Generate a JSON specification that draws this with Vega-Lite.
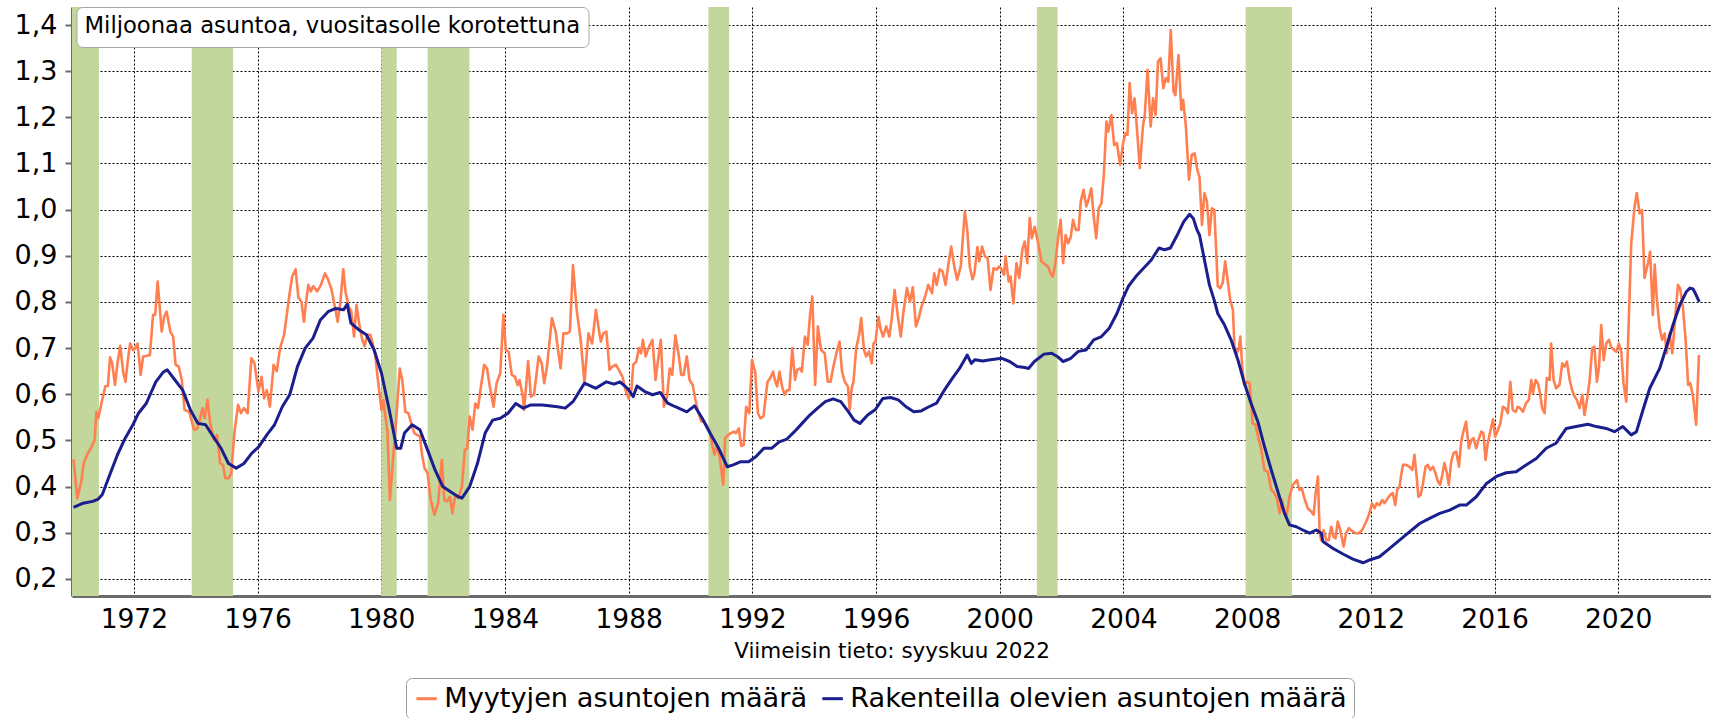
{
  "$schema": "https://vega.github.io/schema/vega-lite/v6.json",
  "width": 1639,
  "height": 589,
  "autosize": {"type": "none"},
  "padding": {"left": 72, "top": 7, "right": 0, "bottom": 122},
  "background": "white",
  "config": {
    "view": {"stroke": null},
    "font": "DejaVu Sans",
    "axis": {"zindex": 1, "labelFont": "DejaVu Sans", "titleFont": "DejaVu Sans", "labelColor": "#000", "titleColor": "#000", "gridColor": "#000", "gridDash": [2, 2], "gridWidth": 1, "gridOpacity": 1, "domainColor": "#6b6b6b", "domainWidth": 3}
  },
  "datasets": {
    "rec": [
      {"s": 1970.0, "e": 1970.87},
      {"s": 1973.87, "e": 1975.21},
      {"s": 1980.0, "e": 1980.5},
      {"s": 1981.5, "e": 1982.85},
      {"s": 1990.58, "e": 1991.25},
      {"s": 2001.2, "e": 2001.87},
      {"s": 2007.95, "e": 2009.45}
    ],
    "sold": [
      {"t":1970.05,"v":0.459},{"t":1970.17,"v":0.375},{"t":1970.30,"v":0.411},{"t":1970.38,"v":0.451},{"t":1970.51,"v":0.472},{"t":1970.61,"v":0.483},{"t":1970.73,"v":0.501},{"t":1970.79,"v":0.562},{"t":1970.85,"v":0.548},{"t":1970.95,"v":0.580},
      {"t":1971.08,"v":0.618},{"t":1971.16,"v":0.618},{"t":1971.23,"v":0.680},{"t":1971.30,"v":0.667},{"t":1971.39,"v":0.620},{"t":1971.47,"v":0.667},{"t":1971.56,"v":0.705},{"t":1971.66,"v":0.646},{"t":1971.73,"v":0.627},{"t":1971.81,"v":0.676},{"t":1971.88,"v":0.710},{"t":1971.97,"v":0.696},
      {"t":1972.05,"v":0.700},{"t":1972.12,"v":0.710},{"t":1972.22,"v":0.642},{"t":1972.30,"v":0.682},{"t":1972.40,"v":0.683},{"t":1972.52,"v":0.685},{"t":1972.62,"v":0.772},{"t":1972.69,"v":0.772},{"t":1972.77,"v":0.844},{"t":1972.90,"v":0.736},{"t":1972.98,"v":0.768},
      {"t":1973.06,"v":0.779},{"t":1973.18,"v":0.736},{"t":1973.27,"v":0.725},{"t":1973.35,"v":0.664},{"t":1973.45,"v":0.660},{"t":1973.55,"v":0.631},{"t":1973.64,"v":0.566},{"t":1973.79,"v":0.562},{"t":1973.95,"v":0.523},
      {"t":1974.05,"v":0.526},{"t":1974.13,"v":0.544},{"t":1974.22,"v":0.570},{"t":1974.29,"v":0.548},{"t":1974.38,"v":0.588},{"t":1974.47,"v":0.537},{"t":1974.59,"v":0.501},{"t":1974.69,"v":0.512},{"t":1974.79,"v":0.451},{"t":1974.88,"v":0.447},{"t":1974.96,"v":0.418},
      {"t":1975.06,"v":0.418},{"t":1975.15,"v":0.429},{"t":1975.25,"v":0.516},{"t":1975.37,"v":0.577},{"t":1975.46,"v":0.559},{"t":1975.56,"v":0.570},{"t":1975.68,"v":0.559},{"t":1975.80,"v":0.678},{"t":1975.90,"v":0.667},
      {"t":1976.03,"v":0.606},{"t":1976.13,"v":0.638},{"t":1976.21,"v":0.591},{"t":1976.30,"v":0.609},{"t":1976.40,"v":0.573},{"t":1976.52,"v":0.664},{"t":1976.62,"v":0.650},{"t":1976.73,"v":0.700},{"t":1976.86,"v":0.729},{"t":1976.98,"v":0.790},
      {"t":1977.04,"v":0.820},{"t":1977.12,"v":0.855},{"t":1977.23,"v":0.871},{"t":1977.32,"v":0.810},{"t":1977.42,"v":0.800},{"t":1977.50,"v":0.757},{"t":1977.57,"v":0.800},{"t":1977.64,"v":0.837},{"t":1977.72,"v":0.823},{"t":1977.80,"v":0.834},{"t":1977.93,"v":0.823},
      {"t":1978.05,"v":0.837},{"t":1978.18,"v":0.862},{"t":1978.27,"v":0.850},{"t":1978.38,"v":0.830},{"t":1978.50,"v":0.790},{"t":1978.59,"v":0.757},{"t":1978.68,"v":0.800},{"t":1978.77,"v":0.871},{"t":1978.85,"v":0.820},{"t":1978.95,"v":0.790},
      {"t":1979.03,"v":0.780},{"t":1979.12,"v":0.725},{"t":1979.20,"v":0.794},{"t":1979.30,"v":0.747},{"t":1979.38,"v":0.720},{"t":1979.46,"v":0.704},{"t":1979.55,"v":0.729},{"t":1979.65,"v":0.729},{"t":1979.80,"v":0.689},{"t":1979.88,"v":0.638},{"t":1979.95,"v":0.599},
      {"t":1980.01,"v":0.566},{"t":1980.07,"v":0.588},{"t":1980.12,"v":0.559},{"t":1980.20,"v":0.520},{"t":1980.28,"v":0.371},{"t":1980.37,"v":0.450},{"t":1980.45,"v":0.516},{"t":1980.52,"v":0.581},{"t":1980.60,"v":0.656},{"t":1980.68,"v":0.631},{"t":1980.78,"v":0.562},{"t":1980.88,"v":0.559},{"t":1980.98,"v":0.534},
      {"t":1981.07,"v":0.516},{"t":1981.15,"v":0.512},{"t":1981.25,"v":0.509},{"t":1981.32,"v":0.469},{"t":1981.40,"v":0.440},{"t":1981.50,"v":0.429},{"t":1981.60,"v":0.371},{"t":1981.72,"v":0.339},{"t":1981.84,"v":0.364},{"t":1981.96,"v":0.458},
      {"t":1982.04,"v":0.371},{"t":1982.13,"v":0.368},{"t":1982.22,"v":0.378},{"t":1982.30,"v":0.342},{"t":1982.39,"v":0.382},{"t":1982.49,"v":0.375},{"t":1982.61,"v":0.400},{"t":1982.70,"v":0.479},{"t":1982.78,"v":0.483},{"t":1982.86,"v":0.552},{"t":1982.95,"v":0.523},
      {"t":1983.04,"v":0.580},{"t":1983.13,"v":0.570},{"t":1983.20,"v":0.606},{"t":1983.33,"v":0.664},{"t":1983.42,"v":0.656},{"t":1983.51,"v":0.617},{"t":1983.63,"v":0.573},{"t":1983.73,"v":0.624},{"t":1983.85,"v":0.646},{"t":1983.95,"v":0.772},
      {"t":1984.03,"v":0.696},{"t":1984.12,"v":0.692},{"t":1984.22,"v":0.642},{"t":1984.32,"v":0.638},{"t":1984.41,"v":0.620},{"t":1984.47,"v":0.631},{"t":1984.57,"v":0.599},{"t":1984.62,"v":0.566},{"t":1984.75,"v":0.672},{"t":1984.84,"v":0.595},{"t":1984.94,"v":0.599},
      {"t":1985.09,"v":0.682},{"t":1985.19,"v":0.667},{"t":1985.27,"v":0.624},{"t":1985.36,"v":0.660},{"t":1985.52,"v":0.765},{"t":1985.64,"v":0.736},{"t":1985.73,"v":0.689},{"t":1985.80,"v":0.656},{"t":1985.89,"v":0.732},
      {"t":1986.01,"v":0.732},{"t":1986.10,"v":0.736},{"t":1986.20,"v":0.880},{"t":1986.32,"v":0.783},{"t":1986.45,"v":0.718},{"t":1986.57,"v":0.624},{"t":1986.70,"v":0.732},{"t":1986.82,"v":0.710},{"t":1986.94,"v":0.783},
      {"t":1987.03,"v":0.743},{"t":1987.10,"v":0.714},{"t":1987.18,"v":0.732},{"t":1987.28,"v":0.736},{"t":1987.38,"v":0.653},{"t":1987.47,"v":0.660},{"t":1987.59,"v":0.664},{"t":1987.71,"v":0.649},{"t":1987.80,"v":0.638},{"t":1987.90,"v":0.609},
      {"t":1988.00,"v":0.591},{"t":1988.09,"v":0.609},{"t":1988.15,"v":0.664},{"t":1988.25,"v":0.671},{"t":1988.33,"v":0.700},{"t":1988.40,"v":0.689},{"t":1988.46,"v":0.718},{"t":1988.55,"v":0.682},{"t":1988.64,"v":0.700},{"t":1988.77,"v":0.718},{"t":1988.87,"v":0.631},{"t":1988.95,"v":0.674},
      {"t":1989.04,"v":0.718},{"t":1989.14,"v":0.573},{"t":1989.24,"v":0.595},{"t":1989.33,"v":0.656},{"t":1989.41,"v":0.642},{"t":1989.51,"v":0.728},{"t":1989.61,"v":0.689},{"t":1989.70,"v":0.642},{"t":1989.78,"v":0.642},{"t":1989.88,"v":0.682},{"t":1989.97,"v":0.631},
      {"t":1990.07,"v":0.620},{"t":1990.16,"v":0.588},{"t":1990.26,"v":0.559},{"t":1990.35,"v":0.541},{"t":1990.44,"v":0.541},{"t":1990.54,"v":0.530},{"t":1990.63,"v":0.519},{"t":1990.71,"v":0.487},{"t":1990.78,"v":0.469},{"t":1990.85,"v":0.490},{"t":1990.94,"v":0.465},
      {"t":1991.06,"v":0.404},{"t":1991.12,"v":0.505},{"t":1991.22,"v":0.512},{"t":1991.31,"v":0.516},{"t":1991.40,"v":0.519},{"t":1991.47,"v":0.516},{"t":1991.56,"v":0.526},{"t":1991.64,"v":0.488},{"t":1991.72,"v":0.490},{"t":1991.80,"v":0.573},{"t":1991.90,"v":0.559},{"t":1991.99,"v":0.674},
      {"t":1992.09,"v":0.649},{"t":1992.18,"v":0.559},{"t":1992.26,"v":0.548},{"t":1992.36,"v":0.552},{"t":1992.49,"v":0.627},{"t":1992.58,"v":0.635},{"t":1992.67,"v":0.649},{"t":1992.73,"v":0.631},{"t":1992.80,"v":0.617},{"t":1992.88,"v":0.649},{"t":1992.96,"v":0.617},
      {"t":1993.04,"v":0.599},{"t":1993.13,"v":0.609},{"t":1993.20,"v":0.609},{"t":1993.29,"v":0.700},{"t":1993.38,"v":0.631},{"t":1993.45,"v":0.653},{"t":1993.54,"v":0.656},{"t":1993.60,"v":0.649},{"t":1993.70,"v":0.725},{"t":1993.79,"v":0.707},{"t":1993.87,"v":0.775},{"t":1993.94,"v":0.812},
      {"t":1994.03,"v":0.620},{"t":1994.12,"v":0.747},{"t":1994.22,"v":0.696},{"t":1994.34,"v":0.689},{"t":1994.44,"v":0.627},{"t":1994.53,"v":0.627},{"t":1994.62,"v":0.660},{"t":1994.72,"v":0.689},{"t":1994.82,"v":0.714},{"t":1994.90,"v":0.649},{"t":1994.99,"v":0.627},
      {"t":1995.09,"v":0.617},{"t":1995.15,"v":0.566},{"t":1995.21,"v":0.613},{"t":1995.27,"v":0.627},{"t":1995.36,"v":0.700},{"t":1995.46,"v":0.732},{"t":1995.52,"v":0.765},{"t":1995.61,"v":0.696},{"t":1995.68,"v":0.682},{"t":1995.77,"v":0.693},{"t":1995.86,"v":0.667},{"t":1995.92,"v":0.710},{"t":1995.98,"v":0.714},
      {"t":1996.08,"v":0.768},{"t":1996.14,"v":0.743},{"t":1996.23,"v":0.725},{"t":1996.33,"v":0.747},{"t":1996.43,"v":0.725},{"t":1996.51,"v":0.765},{"t":1996.60,"v":0.826},{"t":1996.70,"v":0.772},{"t":1996.80,"v":0.725},{"t":1996.88,"v":0.775},
      {"t":1997.00,"v":0.830},{"t":1997.10,"v":0.800},{"t":1997.19,"v":0.832},{"t":1997.29,"v":0.747},{"t":1997.38,"v":0.765},{"t":1997.47,"v":0.790},{"t":1997.57,"v":0.808},{"t":1997.69,"v":0.837},{"t":1997.81,"v":0.819},{"t":1997.88,"v":0.862},{"t":1997.96,"v":0.837},
      {"t":1998.06,"v":0.871},{"t":1998.15,"v":0.866},{"t":1998.25,"v":0.837},{"t":1998.33,"v":0.877},{"t":1998.43,"v":0.920},{"t":1998.53,"v":0.877},{"t":1998.62,"v":0.848},{"t":1998.74,"v":0.877},{"t":1998.87,"v":0.996},{"t":1998.95,"v":0.956},
      {"t":1999.03,"v":0.877},{"t":1999.12,"v":0.849},{"t":1999.18,"v":0.862},{"t":1999.28,"v":0.919},{"t":1999.34,"v":0.888},{"t":1999.43,"v":0.920},{"t":1999.52,"v":0.899},{"t":1999.61,"v":0.895},{"t":1999.70,"v":0.826},{"t":1999.80,"v":0.873},{"t":1999.90,"v":0.870},{"t":1999.98,"v":0.877},
      {"t":2000.04,"v":0.873},{"t":2000.14,"v":0.859},{"t":2000.19,"v":0.899},{"t":2000.29,"v":0.844},{"t":2000.35,"v":0.855},{"t":2000.44,"v":0.797},{"t":2000.54,"v":0.884},{"t":2000.63,"v":0.852},{"t":2000.73,"v":0.913},{"t":2000.81,"v":0.931},{"t":2000.89,"v":0.884},{"t":2000.97,"v":0.982},
      {"t":2001.04,"v":0.938},{"t":2001.13,"v":0.963},{"t":2001.22,"v":0.935},{"t":2001.35,"v":0.888},{"t":2001.47,"v":0.881},{"t":2001.56,"v":0.877},{"t":2001.66,"v":0.859},{"t":2001.72,"v":0.855},{"t":2001.80,"v":0.884},{"t":2001.88,"v":0.935},{"t":2001.97,"v":0.978},
      {"t":2002.05,"v":0.884},{"t":2002.13,"v":0.945},{"t":2002.21,"v":0.927},{"t":2002.30,"v":0.942},{"t":2002.37,"v":0.978},{"t":2002.46,"v":0.956},{"t":2002.55,"v":0.956},{"t":2002.62,"v":1.018},{"t":2002.71,"v":1.043},{"t":2002.80,"v":1.007},{"t":2002.87,"v":1.021},{"t":2002.96,"v":1.046},
      {"t":2003.04,"v":0.985},{"t":2003.12,"v":0.938},{"t":2003.20,"v":1.003},{"t":2003.29,"v":1.014},{"t":2003.37,"v":1.079},{"t":2003.45,"v":1.191},{"t":2003.51,"v":1.169},{"t":2003.61,"v":1.205},{"t":2003.70,"v":1.140},{"t":2003.79,"v":1.144},{"t":2003.89,"v":1.097},{"t":2003.99,"v":1.144},
      {"t":2004.07,"v":1.166},{"t":2004.13,"v":1.162},{"t":2004.20,"v":1.274},{"t":2004.28,"v":1.209},{"t":2004.36,"v":1.241},{"t":2004.44,"v":1.173},{"t":2004.53,"v":1.090},{"t":2004.63,"v":1.180},{"t":2004.69,"v":1.205},{"t":2004.78,"v":1.303},{"t":2004.88,"v":1.180},{"t":2004.96,"v":1.241},
      {"t":2005.04,"v":1.205},{"t":2005.12,"v":1.321},{"t":2005.20,"v":1.328},{"t":2005.29,"v":1.263},{"t":2005.37,"v":1.285},{"t":2005.45,"v":1.277},{"t":2005.53,"v":1.389},{"t":2005.62,"v":1.256},{"t":2005.68,"v":1.248},{"t":2005.78,"v":1.335},{"t":2005.87,"v":1.216},{"t":2005.93,"v":1.238},
      {"t":2006.02,"v":1.180},{"t":2006.12,"v":1.065},{"t":2006.21,"v":1.119},{"t":2006.30,"v":1.122},{"t":2006.39,"v":1.086},{"t":2006.46,"v":1.070},{"t":2006.54,"v":0.967},{"t":2006.62,"v":1.036},{"t":2006.70,"v":1.018},{"t":2006.78,"v":0.945},{"t":2006.86,"v":1.003},{"t":2006.94,"v":0.999},
      {"t":2007.05,"v":0.834},{"t":2007.13,"v":0.830},{"t":2007.21,"v":0.841},{"t":2007.29,"v":0.888},{"t":2007.37,"v":0.848},{"t":2007.45,"v":0.805},{"t":2007.54,"v":0.783},{"t":2007.59,"v":0.703},{"t":2007.67,"v":0.689},{"t":2007.73,"v":0.700},{"t":2007.78,"v":0.725},{"t":2007.84,"v":0.660},{"t":2007.91,"v":0.620},{"t":2007.99,"v":0.627},
      {"t":2008.08,"v":0.624},{"t":2008.18,"v":0.537},{"t":2008.27,"v":0.534},{"t":2008.38,"v":0.501},{"t":2008.45,"v":0.483},{"t":2008.56,"v":0.436},{"t":2008.67,"v":0.432},{"t":2008.78,"v":0.393},{"t":2008.85,"v":0.389},{"t":2008.96,"v":0.375},
      {"t":2009.05,"v":0.342},{"t":2009.13,"v":0.371},{"t":2009.21,"v":0.342},{"t":2009.28,"v":0.339},{"t":2009.37,"v":0.378},{"t":2009.48,"v":0.404},{"t":2009.61,"v":0.414},{"t":2009.69,"v":0.393},{"t":2009.77,"v":0.396},{"t":2009.85,"v":0.375},{"t":2009.96,"v":0.353},
      {"t":2010.07,"v":0.346},{"t":2010.15,"v":0.339},{"t":2010.21,"v":0.382},{"t":2010.29,"v":0.422},{"t":2010.34,"v":0.306},{"t":2010.39,"v":0.284},{"t":2010.47,"v":0.306},{"t":2010.56,"v":0.284},{"t":2010.64,"v":0.284},{"t":2010.72,"v":0.313},{"t":2010.79,"v":0.292},{"t":2010.86,"v":0.288},{"t":2010.93,"v":0.324},
      {"t":2011.01,"v":0.306},{"t":2011.12,"v":0.270},{"t":2011.20,"v":0.299},{"t":2011.29,"v":0.310},{"t":2011.40,"v":0.303},{"t":2011.50,"v":0.299},{"t":2011.61,"v":0.299},{"t":2011.72,"v":0.306},{"t":2011.83,"v":0.321},{"t":2011.94,"v":0.339},
      {"t":2012.04,"v":0.364},{"t":2012.12,"v":0.353},{"t":2012.19,"v":0.364},{"t":2012.28,"v":0.360},{"t":2012.37,"v":0.371},{"t":2012.44,"v":0.364},{"t":2012.55,"v":0.375},{"t":2012.63,"v":0.382},{"t":2012.71,"v":0.386},{"t":2012.79,"v":0.360},{"t":2012.85,"v":0.393},{"t":2012.93,"v":0.400},{"t":2012.98,"v":0.425},
      {"t":2013.04,"v":0.447},{"t":2013.14,"v":0.447},{"t":2013.25,"v":0.443},{"t":2013.34,"v":0.436},{"t":2013.41,"v":0.469},{"t":2013.47,"v":0.429},{"t":2013.54,"v":0.378},{"t":2013.61,"v":0.382},{"t":2013.68,"v":0.404},{"t":2013.77,"v":0.443},{"t":2013.84,"v":0.447},{"t":2013.92,"v":0.436},
      {"t":2014.01,"v":0.443},{"t":2014.09,"v":0.429},{"t":2014.17,"v":0.411},{"t":2014.24,"v":0.404},{"t":2014.31,"v":0.425},{"t":2014.38,"v":0.451},{"t":2014.46,"v":0.429},{"t":2014.52,"v":0.404},{"t":2014.60,"v":0.454},{"t":2014.67,"v":0.472},{"t":2014.76,"v":0.476},{"t":2014.85,"v":0.443},{"t":2014.92,"v":0.497},{"t":2014.98,"v":0.516},
      {"t":2015.08,"v":0.541},{"t":2015.17,"v":0.483},{"t":2015.25,"v":0.501},{"t":2015.32,"v":0.505},{"t":2015.41,"v":0.483},{"t":2015.48,"v":0.501},{"t":2015.57,"v":0.519},{"t":2015.64,"v":0.516},{"t":2015.71,"v":0.458},{"t":2015.78,"v":0.494},{"t":2015.86,"v":0.519},{"t":2015.95,"v":0.546},
      {"t":2016.02,"v":0.508},{"t":2016.11,"v":0.523},{"t":2016.19,"v":0.537},{"t":2016.27,"v":0.573},{"t":2016.35,"v":0.570},{"t":2016.43,"v":0.559},{"t":2016.51,"v":0.627},{"t":2016.59,"v":0.566},{"t":2016.68,"v":0.562},{"t":2016.75,"v":0.573},{"t":2016.83,"v":0.570},{"t":2016.92,"v":0.562},
      {"t":2017.02,"v":0.581},{"t":2017.11,"v":0.588},{"t":2017.19,"v":0.631},{"t":2017.24,"v":0.602},{"t":2017.33,"v":0.631},{"t":2017.40,"v":0.624},{"t":2017.46,"v":0.606},{"t":2017.54,"v":0.570},{"t":2017.62,"v":0.559},{"t":2017.69,"v":0.635},{"t":2017.78,"v":0.631},{"t":2017.83,"v":0.710},{"t":2017.91,"v":0.631},{"t":2017.99,"v":0.613},
      {"t":2018.10,"v":0.620},{"t":2018.19,"v":0.667},{"t":2018.26,"v":0.660},{"t":2018.34,"v":0.671},{"t":2018.43,"v":0.631},{"t":2018.51,"v":0.609},{"t":2018.59,"v":0.595},{"t":2018.66,"v":0.588},{"t":2018.75,"v":0.570},{"t":2018.84,"v":0.599},{"t":2018.91,"v":0.555},{"t":2018.99,"v":0.588},
      {"t":2019.07,"v":0.627},{"t":2019.16,"v":0.700},{"t":2019.23,"v":0.703},{"t":2019.31,"v":0.627},{"t":2019.38,"v":0.660},{"t":2019.45,"v":0.750},{"t":2019.53,"v":0.674},{"t":2019.61,"v":0.710},{"t":2019.70,"v":0.718},{"t":2019.77,"v":0.703},{"t":2019.86,"v":0.696},{"t":2019.94,"v":0.692},
      {"t":2020.02,"v":0.710},{"t":2020.10,"v":0.692},{"t":2020.17,"v":0.624},{"t":2020.26,"v":0.584},{"t":2020.31,"v":0.696},{"t":2020.42,"v":0.927},{"t":2020.53,"v":1.007},{"t":2020.60,"v":1.036},{"t":2020.69,"v":0.992},{"t":2020.77,"v":0.999},{"t":2020.85,"v":0.852},{"t":2020.96,"v":0.884},
      {"t":2021.03,"v":0.909},{"t":2021.12,"v":0.772},{"t":2021.18,"v":0.881},{"t":2021.25,"v":0.805},{"t":2021.34,"v":0.743},{"t":2021.42,"v":0.718},{"t":2021.50,"v":0.732},{"t":2021.57,"v":0.689},{"t":2021.66,"v":0.732},{"t":2021.75,"v":0.689},{"t":2021.82,"v":0.747},{"t":2021.93,"v":0.837},
      {"t":2022.00,"v":0.830},{"t":2022.09,"v":0.790},{"t":2022.18,"v":0.718},{"t":2022.26,"v":0.620},{"t":2022.33,"v":0.624},{"t":2022.42,"v":0.595},{"t":2022.52,"v":0.534},{"t":2022.61,"v":0.685}
    ],
    "uc": [
      {"t":1970.05,"v":0.355},{"t":1970.36,"v":0.364},{"t":1970.67,"v":0.368},{"t":1970.85,"v":0.373},{"t":1970.98,"v":0.383},{"t":1971.20,"v":0.422},{"t":1971.47,"v":0.469},{"t":1971.72,"v":0.505},{"t":1971.97,"v":0.534},
      {"t":1972.15,"v":0.559},{"t":1972.40,"v":0.580},{"t":1972.71,"v":0.627},{"t":1972.95,"v":0.648},{"t":1973.08,"v":0.653},{"t":1973.33,"v":0.631},{"t":1973.58,"v":0.609},{"t":1973.83,"v":0.566},
      {"t":1974.07,"v":0.537},{"t":1974.32,"v":0.534},{"t":1974.57,"v":0.508},{"t":1974.82,"v":0.483},{"t":1975.06,"v":0.450},{"t":1975.31,"v":0.440},{"t":1975.56,"v":0.450},{"t":1975.81,"v":0.472},
      {"t":1976.05,"v":0.487},{"t":1976.30,"v":0.512},{"t":1976.55,"v":0.534},{"t":1976.80,"v":0.573},{"t":1977.04,"v":0.599},{"t":1977.29,"v":0.660},{"t":1977.54,"v":0.700},{"t":1977.79,"v":0.721},
      {"t":1978.03,"v":0.761},{"t":1978.28,"v":0.779},{"t":1978.53,"v":0.786},{"t":1978.78,"v":0.783},{"t":1978.90,"v":0.795},{"t":1979.02,"v":0.754},{"t":1979.27,"v":0.740},{"t":1979.52,"v":0.729},{"t":1979.77,"v":0.696},
      {"t":1980.01,"v":0.645},{"t":1980.26,"v":0.566},{"t":1980.50,"v":0.483},{"t":1980.63,"v":0.483},{"t":1980.75,"v":0.516},{"t":1981.00,"v":0.534},{"t":1981.25,"v":0.523},{"t":1981.50,"v":0.479},{"t":1981.74,"v":0.436},{"t":1981.99,"v":0.400},
      {"t":1982.24,"v":0.389},{"t":1982.49,"v":0.378},{"t":1982.61,"v":0.375},{"t":1982.86,"v":0.400},{"t":1983.11,"v":0.450},{"t":1983.36,"v":0.516},{"t":1983.60,"v":0.544},{"t":1983.85,"v":0.548},
      {"t":1984.10,"v":0.559},{"t":1984.35,"v":0.580},{"t":1984.59,"v":0.570},{"t":1984.84,"v":0.577},{"t":1985.21,"v":0.577},{"t":1985.70,"v":0.573},{"t":1985.95,"v":0.570},{"t":1986.20,"v":0.584},{"t":1986.57,"v":0.624},{"t":1986.94,"v":0.613},
      {"t":1987.28,"v":0.627},{"t":1987.53,"v":0.622},{"t":1987.72,"v":0.627},{"t":1987.96,"v":0.613},{"t":1988.15,"v":0.595},{"t":1988.27,"v":0.618},{"t":1988.52,"v":0.606},{"t":1988.77,"v":0.599},
      {"t":1989.02,"v":0.604},{"t":1989.26,"v":0.581},{"t":1989.51,"v":0.573},{"t":1989.88,"v":0.562},{"t":1990.13,"v":0.575},{"t":1990.38,"v":0.548},{"t":1990.63,"v":0.516},{"t":1990.88,"v":0.487},
      {"t":1991.19,"v":0.443},{"t":1991.38,"v":0.447},{"t":1991.63,"v":0.454},{"t":1991.88,"v":0.454},{"t":1992.12,"v":0.465},{"t":1992.37,"v":0.483},{"t":1992.62,"v":0.483},{"t":1992.87,"v":0.497},
      {"t":1993.12,"v":0.503},{"t":1993.36,"v":0.519},{"t":1993.61,"v":0.537},{"t":1993.86,"v":0.555},{"t":1994.11,"v":0.570},{"t":1994.36,"v":0.584},{"t":1994.61,"v":0.590},{"t":1994.86,"v":0.584},
      {"t":1995.11,"v":0.562},{"t":1995.29,"v":0.544},{"t":1995.48,"v":0.537},{"t":1995.73,"v":0.555},{"t":1995.98,"v":0.567},{"t":1996.22,"v":0.591},{"t":1996.47,"v":0.593},{"t":1996.72,"v":0.588},{"t":1996.97,"v":0.573},
      {"t":1997.22,"v":0.562},{"t":1997.46,"v":0.564},{"t":1997.71,"v":0.573},{"t":1997.96,"v":0.581},{"t":1998.21,"v":0.609},{"t":1998.46,"v":0.634},{"t":1998.70,"v":0.656},{"t":1998.95,"v":0.685},
      {"t":1999.08,"v":0.667},{"t":1999.20,"v":0.675},{"t":1999.45,"v":0.672},{"t":1999.70,"v":0.675},{"t":2000.07,"v":0.678},{"t":2000.32,"v":0.671},{"t":2000.56,"v":0.660},{"t":2000.81,"v":0.658},{"t":2000.93,"v":0.656},
      {"t":2001.12,"v":0.671},{"t":2001.43,"v":0.687},{"t":2001.68,"v":0.689},{"t":2001.86,"v":0.682},{"t":2002.05,"v":0.671},{"t":2002.30,"v":0.678},{"t":2002.54,"v":0.693},{"t":2002.79,"v":0.696},
      {"t":2003.04,"v":0.718},{"t":2003.29,"v":0.725},{"t":2003.54,"v":0.743},{"t":2003.79,"v":0.775},{"t":2003.97,"v":0.806},{"t":2004.16,"v":0.834},{"t":2004.40,"v":0.855},{"t":2004.65,"v":0.873},{"t":2004.90,"v":0.891},
      {"t":2005.15,"v":0.917},{"t":2005.33,"v":0.913},{"t":2005.52,"v":0.917},{"t":2005.77,"v":0.949},{"t":2005.95,"v":0.974},{"t":2006.14,"v":0.990},{"t":2006.26,"v":0.981},{"t":2006.38,"v":0.956},{"t":2006.46,"v":0.945},
      {"t":2006.78,"v":0.837},{"t":2006.94,"v":0.803},{"t":2007.05,"v":0.775},{"t":2007.27,"v":0.750},{"t":2007.48,"v":0.718},{"t":2007.70,"v":0.675},{"t":2007.91,"v":0.624},
      {"t":2008.13,"v":0.580},{"t":2008.35,"v":0.540},{"t":2008.56,"v":0.487},{"t":2008.78,"v":0.436},{"t":2008.99,"v":0.390},{"t":2009.21,"v":0.342},{"t":2009.37,"v":0.317},{"t":2009.59,"v":0.313},{"t":2009.80,"v":0.306},
      {"t":2010.02,"v":0.299},{"t":2010.24,"v":0.306},{"t":2010.40,"v":0.299},{"t":2010.45,"v":0.281},{"t":2010.78,"v":0.266},{"t":2011.10,"v":0.254},{"t":2011.42,"v":0.243},{"t":2011.75,"v":0.235},{"t":2011.96,"v":0.241},
      {"t":2012.28,"v":0.248},{"t":2012.61,"v":0.266},{"t":2012.93,"v":0.284},{"t":2013.25,"v":0.302},{"t":2013.58,"v":0.320},{"t":2013.90,"v":0.331},{"t":2014.23,"v":0.342},{"t":2014.55,"v":0.349},{"t":2014.87,"v":0.360},
      {"t":2015.09,"v":0.360},{"t":2015.41,"v":0.378},{"t":2015.73,"v":0.406},{"t":2016.06,"v":0.422},{"t":2016.38,"v":0.430},{"t":2016.70,"v":0.432},{"t":2017.02,"v":0.447},{"t":2017.35,"v":0.461},{"t":2017.67,"v":0.483},{"t":2017.99,"v":0.494},
      {"t":2018.32,"v":0.526},{"t":2018.64,"v":0.530},{"t":2019.02,"v":0.535},{"t":2019.29,"v":0.530},{"t":2019.61,"v":0.526},{"t":2019.88,"v":0.519},{"t":2020.15,"v":0.530},{"t":2020.42,"v":0.512},{"t":2020.59,"v":0.519},{"t":2020.80,"v":0.566},
      {"t":2021.02,"v":0.613},{"t":2021.34,"v":0.656},{"t":2021.56,"v":0.703},{"t":2021.77,"v":0.750},{"t":2021.99,"v":0.793},{"t":2022.10,"v":0.808},{"t":2022.20,"v":0.822},{"t":2022.32,"v":0.830},{"t":2022.42,"v":0.828},{"t":2022.52,"v":0.815},{"t":2022.62,"v":0.800}
    ]
  },
  "layer": [
    {
      "data": {"name": "rec"},
      "mark": {"type": "rect", "color": "#c3d69b"},
      "encoding": {
        "x": {
          "field": "s", "type": "quantitative",
          "scale": {"domain": [1970, 2023], "nice": false, "zero": false},
          "axis": {
            "values": [1972, 1976, 1980, 1984, 1988, 1992, 1996, 2000, 2004, 2008, 2012, 2016, 2020],
            "format": "d", "ticks": false, "tickSize": 0, "labelPadding": 10, "labelFontSize": 26.5,
            "labelFlush": false, "labelOverlap": false, "grid": true,
            "title": "Viimeisin tieto: syyskuu 2022", "titleFontSize": 21.5, "titleFontWeight": "normal",
            "titleBaseline": "top", "titleY": 44
          }
        },
        "x2": {"field": "e"},
        "opacity": {
          "datum": "otsikko", "type": "ordinal",
          "scale": {"range": [1]},
          "legend": {
            "orient": "none", "legendX": 4.5, "legendY": 0,
            "title": "Miljoonaa asuntoa, vuositasolle korotettuna",
            "titleFont": "DejaVu Sans", "titleFontSize": 22.7, "titleFontWeight": "normal", "titleColor": "#000",
            "titleLimit": 2000, "titlePadding": 0, "padding": 8,
            "fillColor": "#ffffff", "strokeColor": "#a6a6a6", "cornerRadius": 6,
            "symbolSize": 0, "symbolOpacity": 0, "symbolStrokeWidth": 0,
            "labelExpr": "''", "labelFontSize": 1
          }
        }
      }
    },
    {
      "data": {"name": "sold"},
      "mark": {"type": "line", "strokeWidth": 2.6, "strokeJoin": "round"},
      "encoding": {
        "x": {"field": "t", "type": "quantitative"},
        "y": {
          "field": "v", "type": "quantitative",
          "scale": {"domain": [0.163, 1.439], "nice": false, "zero": false},
          "axis": {
            "values": [0.2, 0.3, 0.4, 0.5, 0.6, 0.7, 0.8, 0.9, 1.0, 1.1, 1.2, 1.3, 1.4],
            "labelExpr": "replace(format(datum.value, '.1f'), '.', ',')",
            "labelFontSize": 27, "labelPadding": 8, "tickSize": 7, "tickColor": "#6b6b6b", "tickWidth": 2,
            "grid": true, "title": null
          }
        },
        "color": {
          "datum": "Myytyjen asuntojen määrä", "type": "nominal",
          "scale": {"domain": ["Myytyjen asuntojen määrä", "Rakenteilla olevien asuntojen määrä"], "range": ["#ff7f50", "#1b1f8e"]},
          "legend": {
            "orient": "none", "legendX": 334, "legendY": 671, "direction": "horizontal", "title": null,
            "symbolType": "stroke", "symbolSize": 420, "symbolStrokeWidth": 3,
            "labelFont": "DejaVu Sans", "labelFontSize": 27.2, "labelColor": "#000", "labelLimit": 2000, "labelOffset": 4,
            "columnPadding": 8, "padding": 7,
            "fillColor": "#ffffff", "strokeColor": "#9a9a9a", "cornerRadius": 6
          }
        }
      }
    },
    {
      "data": {"name": "uc"},
      "mark": {"type": "line", "strokeWidth": 3, "strokeJoin": "round"},
      "encoding": {
        "x": {"field": "t", "type": "quantitative"},
        "y": {"field": "v", "type": "quantitative"},
        "color": {"datum": "Rakenteilla olevien asuntojen määrä", "type": "nominal"}
      }
    }
  ]
}
